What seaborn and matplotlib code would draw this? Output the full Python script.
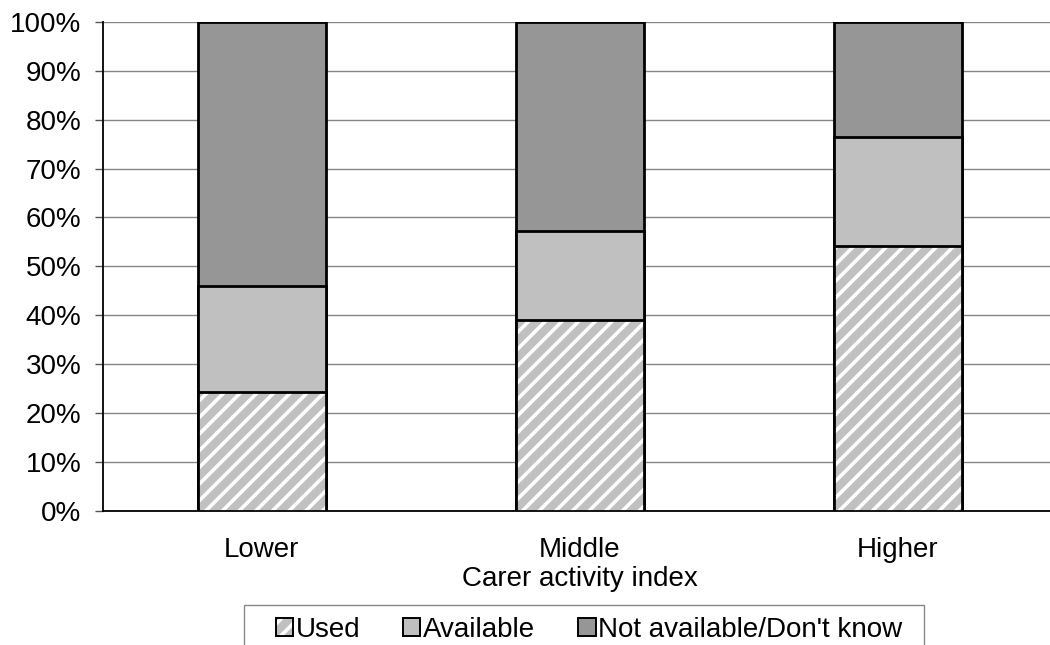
import matplotlib
matplotlib.use("Agg")
import matplotlib.pyplot as plt
import matplotlib.patches as mpatches
import pandas as pd
import seaborn as sns

# =========================
# DATA
# =========================
groups = ["Lower", "Middle", "Higher"]
used = [24.3, 39.1, 54.2]
available = [21.7, 18.2, 22.3]
not_available = [54.0, 42.7, 23.5]

series_names = ["Used", "Available", "Not available/Don't know"]
y_ticks = [0, 10, 20, 30, 40, 50, 60, 70, 80, 90, 100]

df = pd.DataFrame({
    "group": groups,
    "used": used,
    "available": available,
    "not_available": not_available,
})
df["top_used"] = df["used"]
df["top_avail"] = df["used"] + df["available"]
df["top_all"] = df["top_avail"] + df["not_available"]

# =========================
# STYLE
# =========================
sns.set_style("white")
plt.rcParams["font.family"] = ["Liberation Sans", "DejaVu Sans"]
plt.rcParams["hatch.linewidth"] = 2.6
plt.rcParams["text.color"] = "black"
plt.rcParams["xtick.color"] = "black"
plt.rcParams["ytick.color"] = "black"
plt.rcParams["axes.labelcolor"] = "black"

c_used = "#c0c0c0"
c_avail = "#c0c0c0"
c_not = "#969696"
fs = 20

fig = plt.figure(figsize=(10.5, 6.45), dpi=100)
ax = fig.add_axes([0.098, 0.208, 0.9086, 0.758])

# =========================
# BARS (stacked, drawn back to front)
# =========================
sns.barplot(data=df, x="group", y="top_all", color=c_not, width=0.4,
            edgecolor="black", linewidth=2, saturation=1, ax=ax, zorder=3)
sns.barplot(data=df, x="group", y="top_avail", color=c_avail, width=0.4,
            edgecolor="black", linewidth=2, saturation=1, ax=ax, zorder=3)
sns.barplot(data=df, x="group", y="top_used", color=c_used, width=0.4,
            edgecolor="white", linewidth=0, hatch="//", saturation=1,
            ax=ax, zorder=3)
sns.barplot(data=df, x="group", y="top_used", fill=False, width=0.4,
            edgecolor="black", linewidth=2, ax=ax, zorder=4)

# =========================
# AXES
# =========================
ax.set_xlim(-0.5, 2.5)
ax.set_ylim(0, 100)
ax.set_yticks(y_ticks)
ax.set_yticklabels([f"{t}%" for t in y_ticks])
ax.yaxis.grid(True, color="#868686", linewidth=1)
ax.set_axisbelow(True)

ax.set_xticks([0, 1, 2])
ax.set_xticklabels(groups)
ax.set_xticks([-0.5, 0.5, 1.5], minor=True)
ax.tick_params(axis="x", which="major", length=0, pad=18.5, labelsize=fs)
ax.tick_params(axis="x", which="minor", length=7, width=1,
               color="#555555", direction="out")
ax.tick_params(axis="y", length=6, width=1, color="#555555",
               direction="out", pad=9.5, labelsize=fs, left=True)

for s in ["top", "right"]:
    ax.spines[s].set_visible(False)
for s in ["left", "bottom"]:
    ax.spines[s].set_color("black")
    ax.spines[s].set_linewidth(1.3)

ax.set_xlabel("Carer activity index", fontsize=fs, labelpad=2.5)
ax.set_ylabel("")

# =========================
# LEGEND
# =========================
used_handle = (
    mpatches.Patch(facecolor=c_used, edgecolor="white", hatch="//",
                   linewidth=0),
    mpatches.Patch(facecolor="none", edgecolor="black", linewidth=1.4),
)
handles = [
    used_handle,
    mpatches.Patch(facecolor=c_avail, edgecolor="black", linewidth=1.4),
    mpatches.Patch(facecolor=c_not, edgecolor="black", linewidth=1.4),
]
leg = fig.legend(handles, series_names, loc="center",
                 bbox_to_anchor=(0.561, 0.024), ncol=3, fontsize=fs,
                 frameon=False, handlelength=0.62, handleheight=0.62,
                 handletextpad=0.1, columnspacing=1.55)

# legend box, wider than its content and cut by the bottom edge
fig.add_artist(mpatches.Rectangle((244 / 1050, -0.05), 680 / 1050,
                                  0.05 + 40 / 645,
                                  transform=fig.transFigure,
                                  facecolor="none", edgecolor="#888888",
                                  linewidth=1))

fig.savefig("out.png", dpi=100)
plt.close(fig)
